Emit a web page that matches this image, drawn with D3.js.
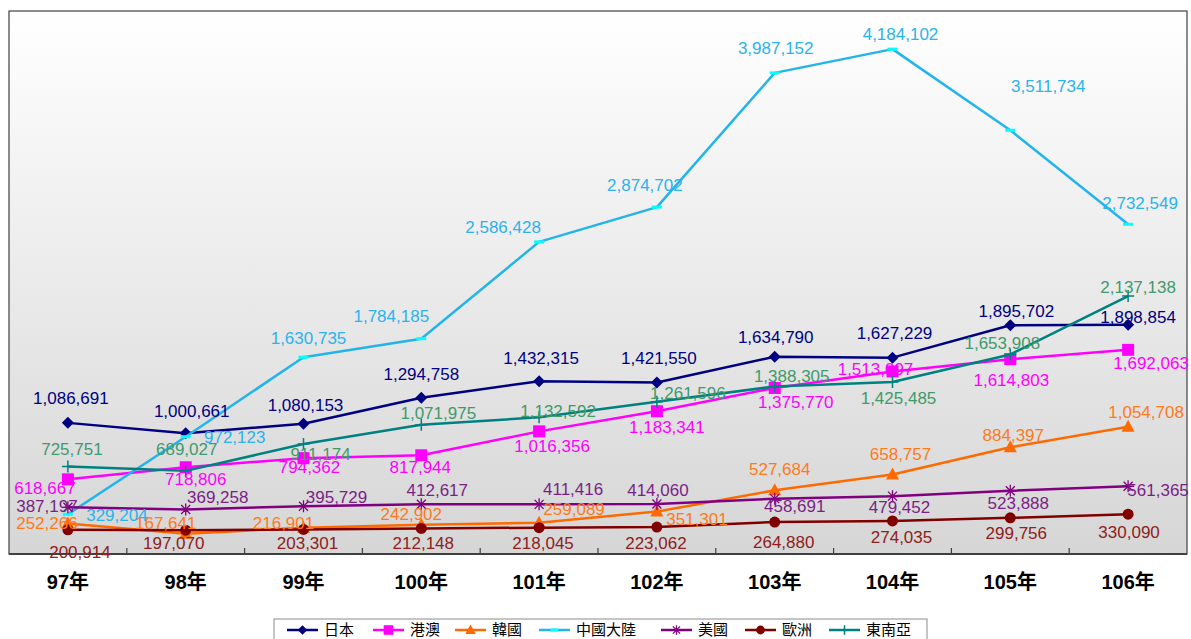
<!DOCTYPE html>
<html><head><meta charset="utf-8">
<script src="https://cdn.jsdelivr.net/npm/d3@7"></script>
<style>body{margin:0;background:#fff;}svg{display:block;}</style>
</head><body><svg id="c" width="1191" height="639"></svg>
<script>
// ---- data ----
const years = ["97年","98年","99年","100年","101年","102年","103年","104年","105年","106年"];
const seriesNames = ["日本","港澳","韓國","中國大陸","美國","歐洲","東南亞"];
const japan = [1086691,1000661,1080153,1294758,1432315,1421550,1634790,1627229,1895702,1898854];
const hkMacau = [618667,718806,794362,817944,1016356,1183341,1375770,1513097,1614803,1692063];
const korea = [252266,167641,216901,242902,259089,351301,527684,658757,884397,1054708];
const china = [329204,972123,1630735,1784185,2586428,2874702,3987152,4184102,3511734,2732549];
const usa = [387197,369258,395729,412617,411416,414060,458691,479452,523888,561365];
const europe = [200914,197070,203301,212148,218045,223062,264880,274035,299756,330090];
const seAsia = [725751,689027,911174,1071975,1132592,1261596,1388305,1425485,1653908,2137138];
const seriesValues = [japan,hkMacau,korea,china,usa,europe,seAsia];

// ---- styles ----
const styles = [
  {line:"#000080", label:"#000080", marker:"diamond", mfill:"#000080"},
  {line:"#FF00FF", label:"#FF00FF", marker:"square", mfill:"#FF00FF"},
  {line:"#FF6A00", label:"#FF7A1A", marker:"triangle", mfill:"#FF6A00"},
  {line:"#22B4EA", label:"#2CB2EC", marker:"dash", mfill:"#00FFFF"},
  {line:"#800080", label:"#7A1F86", marker:"star", mfill:"#800080"},
  {line:"#800000", label:"#8E2020", marker:"circle", mfill:"#800000"},
  {line:"#008080", label:"#3F9A6C", marker:"plus", mfill:"#008080"}
];
// label nudges (label centre relative to its point), per series
const labelNudge = [
  [[3,-25],[6,-22],[2,-19],[0,-24],[2,-23],[2,-24],[1,-20],[2,-25],[6,-14],[10,-8]],
  [[-23,9],[10,12],[6,9],[-1,12],[13,15],[10,16],[21,14],[-17,-2],[1,21],[23,13]],
  [[-21,-1],[-20,-11],[-20,-5],[-10,-11],[35,-14],[40,7],[5,-21],[8,-20],[3,-12],[18,-15]],
  [[49,1],[49,0],[5,-19],[-30,-23],[-36,-15],[-12,-22],[1,-25],[8,-15],[38,-44],[12,-21]],
  [[-21,-1],[32,-12],[33,-9],[16,-14],[34,-15],[1,-14],[20,7],[7,11],[8,12],[30,4]],
  [[12,22],[-12,13],[4,14],[2,15],[4,15],[-1,16],[9,20],[9,16],[6,15],[1,18]],
  [[4,-17],[1,-22],[17,10],[17,-12],[19,-6],[31,-9],[17,-10],[6,16],[-8,-11],[10,-9]]
];

const svg = d3.select("#c");
const L = 9, R = 1187, T = 11, B = 554;

const x = d3.scaleBand().domain(years).range([L, R]).padding(0);
const cx = d => x(d) + x.bandwidth() / 2;
const y = d3.scaleLinear().domain([0, 4500000]).range([B, T]);

const defs = svg.append("defs");
const grad = defs.append("linearGradient").attr("id","bg").attr("x1",0).attr("y1",0).attr("x2",0).attr("y2",1);
grad.append("stop").attr("offset","0%").attr("stop-color","#ffffff");
grad.append("stop").attr("offset","100%").attr("stop-color","#d6d6d6");

svg.append("rect").attr("x",L).attr("y",T).attr("width",R-L).attr("height",B-T)
  .attr("fill","url(#bg)").attr("stroke","#404040").attr("stroke-width",1.2);

// bottom axis with inward ticks at category boundaries
svg.append("line").attr("x1",L).attr("x2",R).attr("y1",B).attr("y2",B).attr("stroke","#404040").attr("stroke-width",2);
svg.selectAll(".tk").data(years.slice(1)).enter().append("line")
  .attr("x1",d=>x(d)).attr("x2",d=>x(d)).attr("y1",B).attr("y2",B-6)
  .attr("stroke","#404040").attr("stroke-width",1.2);

const axis = d3.axisBottom(x).tickSize(0).tickPadding(0);
const ag = svg.append("g").attr("transform",`translate(0,${B})`).call(axis);
ag.select(".domain").remove();
ag.selectAll("text").attr("y",28).attr("dy","0.35em")
  .style("font-family","'Liberation Sans','Noto Sans CJK TC',Arial,sans-serif")
  .style("font-size","20px").style("font-weight","bold").attr("fill","#000");

const line = d3.line().x((d,i)=>cx(years[i])).y(d=>y(d));

function marker(g, type, fill, stroke, px, py, s) {
  const k = s || 1;
  if (type==="diamond") g.append("path").attr("d",`M${px},${py-6*k}L${px+6*k},${py}L${px},${py+6*k}L${px-6*k},${py}Z`).attr("fill",fill);
  else if (type==="square") g.append("rect").attr("x",px-6*k).attr("y",py-6*k).attr("width",12*k).attr("height",12*k).attr("fill",fill);
  else if (type==="triangle") g.append("path").attr("d",`M${px},${py-7*k}L${px+6.5*k},${py+5*k}L${px-6.5*k},${py+5*k}Z`).attr("fill",fill);
  else if (type==="circle") g.append("circle").attr("cx",px).attr("cy",py).attr("r",5.5*k).attr("fill",fill);
  else if (type==="dash") g.append("rect").attr("x",px-5*k).attr("y",py-1.5).attr("width",10*k).attr("height",3).attr("fill",fill);
  else if (type==="plus") g.append("path").attr("d",`M${px-6*k},${py}H${px+6*k}M${px},${py-6*k}V${py+6*k}`).attr("stroke",stroke).attr("stroke-width",1.5).attr("fill","none");
  else if (type==="star") g.append("path").attr("d",`M${px-6*k},${py}H${px+6*k}M${px},${py-6*k}V${py+6*k}M${px-4.5*k},${py-4.5*k}L${px+4.5*k},${py+4.5*k}M${px-4.5*k},${py+4.5*k}L${px+4.5*k},${py-4.5*k}`).attr("stroke",stroke).attr("stroke-width",1.3).attr("fill","none");
}

const lines = svg.append("g");
const fmt = d3.format(",");
seriesValues.forEach((vals, si) => {
  const st = styles[si];
  const g = lines.append("g");
  g.append("path").datum(vals).attr("d", line).attr("fill","none")
    .attr("stroke", st.line).attr("stroke-width", 2.5).attr("stroke-linejoin","round");
  vals.forEach((v,i)=> marker(g, st.marker, st.mfill, st.line, cx(years[i]), y(v)));
});

const labels = svg.append("g").style("font-family","'Liberation Sans',Arial,sans-serif").style("font-size","17px");
seriesValues.forEach((vals, si) => {
  vals.forEach((v,i)=>{
    const n = labelNudge[si][i];
    labels.append("text").attr("x", cx(years[i]) + n[0]).attr("y", y(v) + n[1])
      .attr("text-anchor","middle").attr("dy","0.35em").attr("fill", styles[si].label).text(fmt(v));
  });
});

// legend
const lg = svg.append("g");
lg.append("rect").attr("x",274).attr("y",619).attr("width",653).attr("height",30)
  .attr("fill","#fff").attr("stroke","#8c8c8c").attr("stroke-width",1);
const legX = [287,373,455,539,661,745,829];
seriesNames.forEach((name, si)=>{
  const st = styles[si];
  const lx = legX[si];
  lg.append("line").attr("x1",lx).attr("x2",lx+31).attr("y1",630).attr("y2",630).attr("stroke",st.line).attr("stroke-width",2.5);
  marker(lg, st.marker, st.mfill, st.line, lx+15.5, 630, 0.8);
  lg.append("text").attr("x",lx+37).attr("y",630).attr("dy","0.36em")
    .style("font-family","'Noto Sans CJK TC',sans-serif").style("font-size","15px").attr("fill","#000").text(name);
});
</script></body></html>
